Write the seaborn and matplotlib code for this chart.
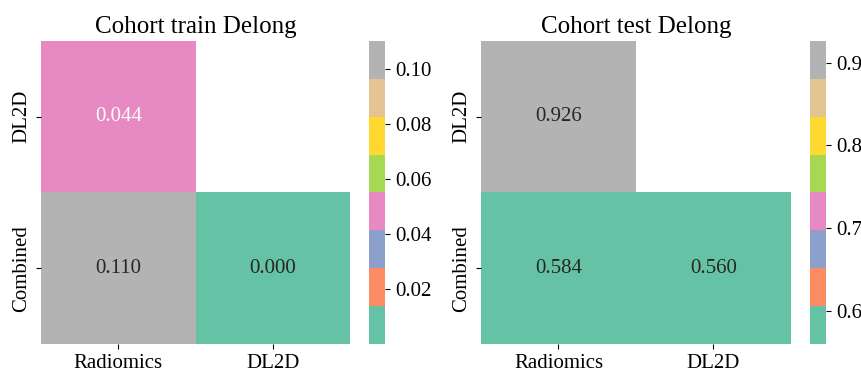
import numpy as np
import pandas as pd
import matplotlib
matplotlib.use("Agg")
import matplotlib.pyplot as plt
import seaborn as sns

plt.rcParams["font.family"] = ["Liberation Serif", "DejaVu Serif"]

# Pairwise DeLong test p-values (lower triangle only)
row_labels = ["DL2D", "Combined"]
col_labels = ["Radiomics", "DL2D"]
train_pvals = [[0.044, np.nan],
               [0.110, 0.000]]
test_pvals = [[0.926, np.nan],
              [0.584, 0.560]]
train_cbar_ticks = [0.02, 0.04, 0.06, 0.08, 0.10]
test_cbar_ticks = [0.6, 0.7, 0.8, 0.9]
titles = ["Cohort train Delong", "Cohort test Delong"]

fig = plt.figure(figsize=(8.62, 3.70), dpi=100)

axes_pos = [
    ([0.0476, 0.0703, 0.3584, 0.8189], [0.4281, 0.0703, 0.0186, 0.8189]),
    ([0.5580, 0.0703, 0.3596, 0.8189], [0.9397, 0.0703, 0.0186, 0.8189]),
]

for (pos, cpos), vals, ticks, title in zip(axes_pos, [train_pvals, test_pvals],
                                           [train_cbar_ticks, test_cbar_ticks], titles):
    ax = fig.add_axes(pos)
    cax = fig.add_axes(cpos)
    df = pd.DataFrame(vals, index=row_labels, columns=col_labels)
    mask = df.isna()
    sns.heatmap(df, mask=mask, cmap="Set2", annot=True, fmt=".3f",
                annot_kws={"fontsize": 15}, ax=ax, cbar_ax=cax,
                cbar_kws={"ticks": ticks})
    ax.set_title(title, fontsize=18)
    ax.tick_params(axis="both", labelsize=15)
    ax.set_yticklabels(ax.get_yticklabels(), rotation=90, va="center")
    ax.set_xticklabels(ax.get_xticklabels(), rotation=0)
    cax.tick_params(labelsize=15)

fig.savefig("out.png", dpi=100)
